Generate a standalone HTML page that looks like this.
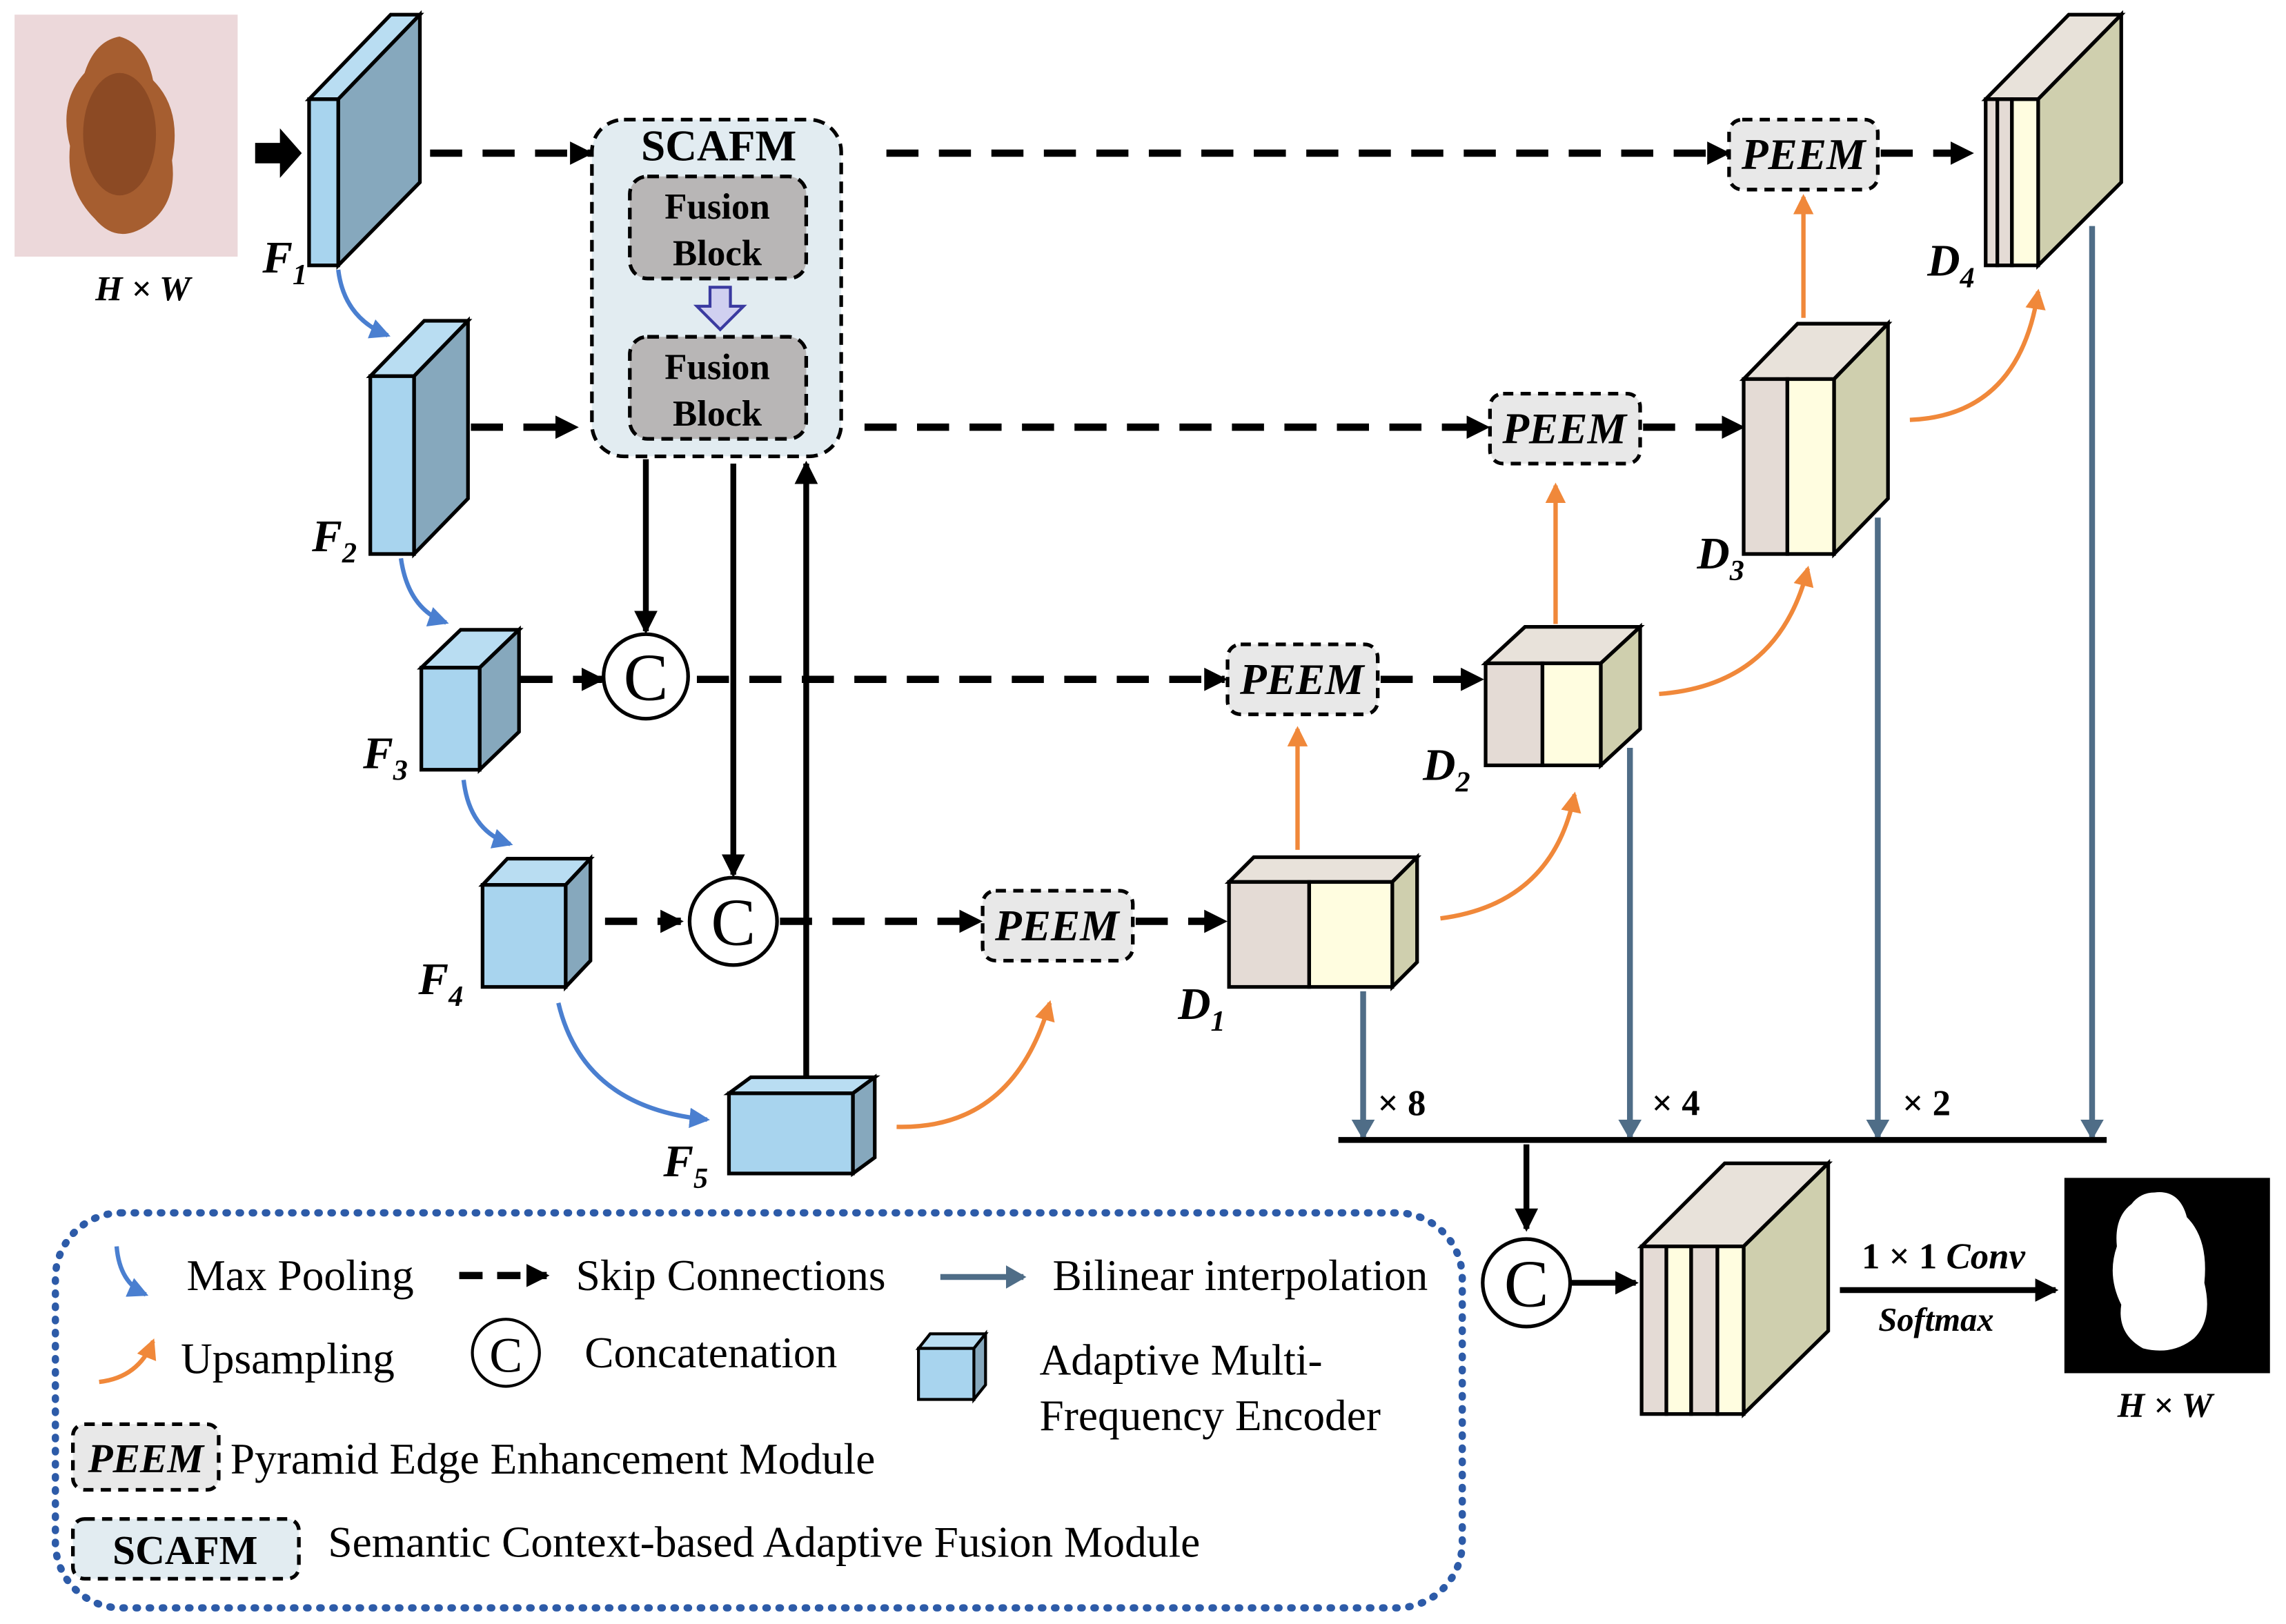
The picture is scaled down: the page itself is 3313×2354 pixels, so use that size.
<!DOCTYPE html>
<html><head><meta charset="utf-8"><style>
html,body{margin:0;padding:0;background:#fff;}
svg{display:block;font-family:"Liberation Serif","Times New Roman",serif;}
svg text{font-family:"Liberation Serif","Times New Roman",serif;}
</style></head><body>
<svg width="3313" height="2354" viewBox="0 0 1568 1114" xmlns="http://www.w3.org/2000/svg" font-family="Liberation Serif, serif">
<defs>
<marker id="abk" markerWidth="16" markerHeight="16" refX="14" refY="8" orient="auto" markerUnits="userSpaceOnUse" viewBox="0 0 16 16"><path d="M0,0 L16,8 L0,16 z" fill="#000"/></marker>
<marker id="ao" markerWidth="14" markerHeight="14" refX="12" refY="7" orient="auto" markerUnits="userSpaceOnUse" viewBox="0 0 14 14"><path d="M0,0 L14,7 L0,14 z" fill="#f0883a"/></marker>
<marker id="abl" markerWidth="14" markerHeight="14" refX="12" refY="7" orient="auto" markerUnits="userSpaceOnUse" viewBox="0 0 14 14"><path d="M0,0 L14,7 L0,14 z" fill="#4a7fd0"/></marker>
<marker id="as" markerWidth="14" markerHeight="16" refX="12" refY="8" orient="auto" markerUnits="userSpaceOnUse" viewBox="0 0 14 16"><path d="M0,0 L14,8 L0,16 z" fill="#4f6d87"/></marker>
</defs>

<!-- skin image -->
<rect x="10" y="10" width="153" height="166" fill="#ecd8da"/>
<path d="M82,25 Q100,30 105,55 Q125,75 118,110 Q122,140 100,155 Q80,168 65,150 Q45,130 48,100 Q40,70 58,50 Q65,28 82,25 z" fill="#a65e30"/>
<ellipse cx="82" cy="92" rx="25" ry="42" fill="#8c4a24"/>
<text x="98" y="206" font-size="24" font-weight="bold" font-style="italic" text-anchor="middle">H × W</text>
<path d="M175,98 H192 V88 L207,105 L192,122 V112 H175 z" fill="#000"/>

<g stroke="#000" stroke-width="2.5">
<path d="M212,68 L268,10 L288,10 L232,68 z" fill="#b9ddf2"/>
<path d="M232,68 L288,10 L288,125 L232,182 z" fill="#86a8bd"/>
<rect x="212" y="68" width="20" height="114" fill="#a8d4ee"/>
<path d="M254,258 L291,220 L321,220 L284,258 z" fill="#b9ddf2"/>
<path d="M284,258 L321,220 L321,342 L284,380 z" fill="#86a8bd"/>
<rect x="254" y="258" width="30" height="122" fill="#a8d4ee"/>
<path d="M289,458 L316,432 L356,432 L329,458 z" fill="#b9ddf2"/>
<path d="M329,458 L356,432 L356,502 L329,528 z" fill="#86a8bd"/>
<rect x="289" y="458" width="40" height="70" fill="#a8d4ee"/>
<path d="M331,607 L348,589 L405,589 L388,607 z" fill="#b9ddf2"/>
<path d="M388,607 L405,589 L405,659 L388,677 z" fill="#86a8bd"/>
<rect x="331" y="607" width="57" height="70" fill="#a8d4ee"/>
<path d="M500,750 L515,739 L600,739 L585,750 z" fill="#b9ddf2"/>
<path d="M585,750 L600,739 L600,794 L585,805 z" fill="#86a8bd"/>
<rect x="500" y="750" width="85" height="55" fill="#a8d4ee"/>
</g>

<g stroke="#000" stroke-width="2.5">
<path d="M843,605 L860,588 L972,588 L955,605 z" fill="#e8e2da"/>
<path d="M955,605 L972,588 L972,660 L955,677 z" fill="#cfcfae"/>
<rect x="843" y="605" width="55" height="72" fill="#e4dbd5"/>
<rect x="898" y="605" width="57" height="72" fill="#fffde0"/>
<path d="M1019,455 L1046,430 L1125,430 L1098,455 z" fill="#e8e2da"/>
<path d="M1098,455 L1125,430 L1125,500 L1098,525 z" fill="#cfcfae"/>
<rect x="1019" y="455" width="39" height="70" fill="#e4dbd5"/>
<rect x="1058" y="455" width="40" height="70" fill="#fffde0"/>
<path d="M1196,260 L1233,222 L1295,222 L1258,260 z" fill="#e8e2da"/>
<path d="M1258,260 L1295,222 L1295,342 L1258,380 z" fill="#cfcfae"/>
<rect x="1196" y="260" width="30" height="120" fill="#e4dbd5"/>
<rect x="1226" y="260" width="32" height="120" fill="#fffde0"/>
<path d="M1362,68 L1419,10 L1455,10 L1398,68 z" fill="#e8e2da"/>
<path d="M1398,68 L1455,10 L1455,125 L1398,182 z" fill="#cfcfae"/>
<rect x="1362" y="68" width="8" height="114" fill="#e4dbd5"/>
<rect x="1370" y="68" width="10" height="114" fill="#e4dbd5"/>
<rect x="1380" y="68" width="18" height="114" fill="#fffde0"/>
<path d="M1126,855 L1183,798 L1254,798 L1196,855 z" fill="#e8e2da"/>
<path d="M1196,855 L1254,798 L1254,913 L1196,970 z" fill="#cfcfae"/>
<rect x="1126" y="855" width="17" height="115" fill="#e4dbd5"/>
<rect x="1143" y="855" width="17" height="115" fill="#fffde0"/>
<rect x="1160" y="855" width="18" height="115" fill="#e4dbd5"/>
<rect x="1178" y="855" width="18" height="115" fill="#fffde0"/>
</g>

<rect x="406" y="82" width="171" height="231" rx="22" fill="#e2ecf1" stroke="#000" stroke-width="2.5" stroke-dasharray="8,5"/>
<text x="493" y="110" font-size="30" font-weight="bold" text-anchor="middle">SCAFM</text>
<rect x="432" y="121" width="121" height="70" rx="12" fill="#b8b6b6" stroke="#000" stroke-width="2.5" stroke-dasharray="8,5"/>
<text x="492" y="150" font-size="25" font-weight="bold" text-anchor="middle">Fusion</text>
<text x="492" y="182" font-size="25" font-weight="bold" text-anchor="middle">Block</text>
<rect x="432" y="231" width="121" height="70" rx="12" fill="#b8b6b6" stroke="#000" stroke-width="2.5" stroke-dasharray="8,5"/>
<text x="492" y="260" font-size="25" font-weight="bold" text-anchor="middle">Fusion</text>
<text x="492" y="292" font-size="25" font-weight="bold" text-anchor="middle">Block</text>
<path d="M487,197 H501 V210 H510 L494,226 L478,210 H487 z" fill="#d0d0f0" stroke="#3a3aa0" stroke-width="2"/>

<g font-size="30" font-weight="bold" font-style="italic" text-anchor="middle">
<rect x="1186" y="82" width="102" height="48" rx="9" fill="#e8e8e8" stroke="#000" stroke-width="2.5" stroke-dasharray="7,5"/>
<text x="1237" y="116">PEEM</text>
<rect x="1022" y="270" width="103" height="48" rx="9" fill="#e8e8e8" stroke="#000" stroke-width="2.5" stroke-dasharray="7,5"/>
<text x="1073" y="304">PEEM</text>
<rect x="842" y="442" width="103" height="48" rx="9" fill="#e8e8e8" stroke="#000" stroke-width="2.5" stroke-dasharray="7,5"/>
<text x="893" y="476">PEEM</text>
<rect x="674" y="611" width="103" height="48" rx="9" fill="#e8e8e8" stroke="#000" stroke-width="2.5" stroke-dasharray="7,5"/>
<text x="725" y="645">PEEM</text>
</g>

<g stroke="#000" stroke-width="5" stroke-dasharray="22,14" fill="none" marker-end="url(#abk)">
<path d="M295,105 H405"/>
<path d="M608,105 H1185"/>
<path d="M1290,105 H1352"/>
<path d="M323,293 H395"/>
<path d="M593,293 H1020"/>
<path d="M1127,293 H1195"/>
<path d="M357,466 H413"/>
<path d="M478,466 H840"/>
<path d="M947,466 H1016"/>
<path d="M415,632 H467"/>
<path d="M535,632 H672"/>
<path d="M779,632 H840"/>
</g>

<g fill="#fff" stroke="#000" stroke-width="2.5">
<circle cx="443" cy="464" r="29"/>
<circle cx="503" cy="632" r="30"/>
<circle cx="1047" cy="880" r="30"/>
</g>
<g font-size="46" text-anchor="middle">
<text x="443" y="480">C</text>
<text x="503" y="648">C</text>
<text x="1047" y="896">C</text>
</g>

<g stroke="#000" stroke-width="4" fill="none" marker-end="url(#abk)">
<path d="M443,315 V433"/>
<path d="M503,318 V600"/>
<path d="M553,739 V318"/>
<path d="M1047,785 V843"/>
<path d="M1078,880 H1122"/>
<path d="M1262,885 H1410"/>
</g>

<g stroke="#f0883a" stroke-width="3" fill="none" marker-end="url(#ao)">
<path d="M890,583 V500"/>
<path d="M1067,428 V333"/>
<path d="M1237,218 V135"/>
<path d="M615,773 Q695,775 720,688"/>
<path d="M988,630 Q1065,620 1080,545"/>
<path d="M1138,476 Q1220,470 1240,390"/>
<path d="M1310,288 Q1385,285 1398,200"/>
</g>

<g stroke="#4a7fd0" stroke-width="3" fill="none" marker-end="url(#abl)">
<path d="M232,185 Q236,218 266,230"/>
<path d="M275,383 Q280,418 306,427"/>
<path d="M318,535 Q322,570 350,579"/>
<path d="M383,688 Q400,760 485,768"/>
</g>

<g stroke="#4f6d87" stroke-width="4" fill="none" marker-end="url(#as)">
<path d="M935,680 V780"/>
<path d="M1118,513 V780"/>
<path d="M1288,355 V780"/>
<path d="M1435,155 V780"/>
</g>
<path d="M918,782 H1445" stroke="#000" stroke-width="4"/>
<g font-size="25" font-weight="bold">
<text x="945" y="765">× 8</text>
<text x="1133" y="765">× 4</text>
<text x="1305" y="765">× 2</text>
</g>
<text x="1333" y="870" font-size="25" font-weight="bold" text-anchor="middle">1 × 1 <tspan font-style="italic">Conv</tspan></text>
<text x="1328" y="913" font-size="23" font-weight="bold" font-style="italic" text-anchor="middle">Softmax</text>

<rect x="1416" y="808" width="141" height="134" fill="#000"/>
<path d="M1478,818 Q1495,816 1500,835 Q1515,850 1512,880 Q1518,905 1505,918 Q1490,930 1470,925 Q1452,915 1455,895 Q1445,875 1452,855 Q1450,835 1462,826 Q1468,818 1478,818 z" fill="#fff"/>
<text x="1485" y="972" font-size="24" font-weight="bold" font-style="italic" text-anchor="middle">H × W</text>

<g font-size="31" font-weight="bold" font-style="italic">
<text x="180" y="187">F<tspan font-size="20" dy="8">1</tspan></text>
<text x="214" y="378">F<tspan font-size="20" dy="8">2</tspan></text>
<text x="249" y="527">F<tspan font-size="20" dy="8">3</tspan></text>
<text x="287" y="682">F<tspan font-size="20" dy="8">4</tspan></text>
<text x="455" y="807">F<tspan font-size="20" dy="8">5</tspan></text>
<text x="808" y="699">D<tspan font-size="20" dy="8">1</tspan></text>
<text x="976" y="535">D<tspan font-size="20" dy="8">2</tspan></text>
<text x="1164" y="390">D<tspan font-size="20" dy="8">3</tspan></text>
<text x="1322" y="189">D<tspan font-size="20" dy="8">4</tspan></text>
</g>

<rect x="38" y="832" width="965" height="271" rx="45" fill="none" stroke="#2d5ba8" stroke-width="5" stroke-dasharray="1,8" stroke-linecap="round"/>
<g font-size="30">
<path d="M80,855 Q82,880 100,888" stroke="#4a7fd0" stroke-width="3" fill="none" marker-end="url(#abl)"/>
<text x="128" y="885">Max Pooling</text>
<path d="M315,875 H375" stroke="#000" stroke-width="5" stroke-dasharray="16,10" fill="none" marker-end="url(#abk)"/>
<text x="395" y="885">Skip Connections</text>
<path d="M645,876 H702" stroke="#4f6d87" stroke-width="4" fill="none" marker-end="url(#as)"/>
<text x="722" y="885">Bilinear interpolation</text>
<path d="M68,948 Q95,945 105,920" stroke="#f0883a" stroke-width="3" fill="none" marker-end="url(#ao)"/>
<text x="124" y="942">Upsampling</text>
<circle cx="347" cy="928" r="23" fill="#fff" stroke="#000" stroke-width="2"/>
<text x="347" y="941" font-size="34" text-anchor="middle">C</text>
<text x="401" y="938">Concatenation</text>
<g stroke="#000" stroke-width="2">
<path d="M630,925 L638,915 L676,915 L668,925 z" fill="#b9ddf2"/>
<path d="M668,925 L676,915 L676,950 L668,960 z" fill="#86a8bd"/>
<rect x="630" y="925" width="38" height="35" fill="#a8d4ee"/>
</g>
<text x="713" y="943">Adaptive Multi-</text>
<text x="713" y="981">Frequency Encoder</text>
<rect x="50" y="977" width="100" height="45" rx="8" fill="#e8e8e8" stroke="#000" stroke-width="2.5" stroke-dasharray="7,5"/>
<text x="100" y="1010" font-size="28" font-weight="bold" font-style="italic" text-anchor="middle">PEEM</text>
<text x="158" y="1011">Pyramid Edge Enhancement Module</text>
<rect x="50" y="1042" width="155" height="41" rx="8" fill="#e2ecf1" stroke="#000" stroke-width="2.5" stroke-dasharray="7,5"/>
<text x="127" y="1073" font-size="28" font-weight="bold" text-anchor="middle">SCAFM</text>
<text x="225" y="1068">Semantic Context-based Adaptive Fusion Module</text>
</g>
</svg>
</body></html>
